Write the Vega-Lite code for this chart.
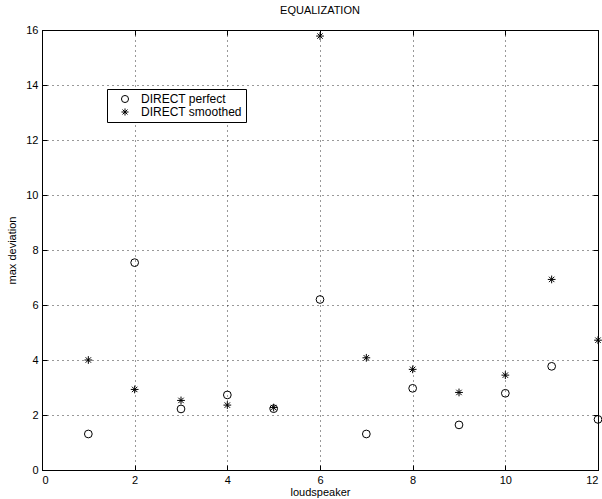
{
  "$schema": "https://vega.github.io/schema/vega-lite/v6.json",
  "width": 556,
  "height": 440,
  "autosize": "none",
  "padding": {"left": 42, "top": 30, "right": 4, "bottom": 29},
  "background": "white",
  "config": {
    "font": "Liberation Sans",
    "view": {"stroke": "black", "strokeWidth": 1}
  },
  "title": {"text": "EQUALIZATION", "fontSize": 11, "fontWeight": "normal", "color": "black", "offset": 8, "anchor": "middle"},
  "data": {
    "values": [
      {"loudspeaker": 1, "dev": 1.31, "series": "DIRECT perfect"},
      {"loudspeaker": 2, "dev": 7.54, "series": "DIRECT perfect"},
      {"loudspeaker": 3, "dev": 2.22, "series": "DIRECT perfect"},
      {"loudspeaker": 4, "dev": 2.73, "series": "DIRECT perfect"},
      {"loudspeaker": 5, "dev": 2.23, "series": "DIRECT perfect"},
      {"loudspeaker": 6, "dev": 6.2, "series": "DIRECT perfect"},
      {"loudspeaker": 7, "dev": 1.31, "series": "DIRECT perfect"},
      {"loudspeaker": 8, "dev": 2.97, "series": "DIRECT perfect"},
      {"loudspeaker": 9, "dev": 1.64, "series": "DIRECT perfect"},
      {"loudspeaker": 10, "dev": 2.79, "series": "DIRECT perfect"},
      {"loudspeaker": 11, "dev": 3.77, "series": "DIRECT perfect"},
      {"loudspeaker": 12, "dev": 1.84, "series": "DIRECT perfect"},
      {"loudspeaker": 1, "dev": 4.0, "series": "DIRECT smoothed"},
      {"loudspeaker": 2, "dev": 2.93, "series": "DIRECT smoothed"},
      {"loudspeaker": 3, "dev": 2.53, "series": "DIRECT smoothed"},
      {"loudspeaker": 4, "dev": 2.36, "series": "DIRECT smoothed"},
      {"loudspeaker": 5, "dev": 2.27, "series": "DIRECT smoothed"},
      {"loudspeaker": 6, "dev": 15.78, "series": "DIRECT smoothed"},
      {"loudspeaker": 7, "dev": 4.08, "series": "DIRECT smoothed"},
      {"loudspeaker": 8, "dev": 3.66, "series": "DIRECT smoothed"},
      {"loudspeaker": 9, "dev": 2.82, "series": "DIRECT smoothed"},
      {"loudspeaker": 10, "dev": 3.45, "series": "DIRECT smoothed"},
      {"loudspeaker": 11, "dev": 6.93, "series": "DIRECT smoothed"},
      {"loudspeaker": 12, "dev": 4.72, "series": "DIRECT smoothed"}
    ]
  },
  "resolve": {"axis": {"x": "independent", "y": "independent"}},
  "layer": [
    {
      "mark": {"type": "point", "filled": false, "stroke": "black", "strokeWidth": 1, "opacity": 0, "clip": false},
      "encoding": {
        "x": {
          "field": "loudspeaker", "type": "quantitative",
          "scale": {"domain": [0, 12], "nice": false},
          "axis": {"orient": "top", "values": [0, 2, 4, 6, 8, 10, 12], "title": null, "labels": false, "grid": false,
                   "domainColor": "black", "tickColor": "black", "tickSize": -5}
        },
        "y": {
          "field": "dev", "type": "quantitative",
          "scale": {"domain": [0, 16], "nice": false},
          "axis": {"orient": "right", "values": [0, 2, 4, 6, 8, 10, 12, 14, 16], "title": null, "labels": false, "grid": false,
                   "domainColor": "black", "tickColor": "black", "tickSize": -5}
        }
      }
    },
    {
      "mark": {"type": "point", "filled": false, "stroke": "black", "strokeWidth": 1, "opacity": 1, "clip": false},
      "encoding": {
        "x": {
          "field": "loudspeaker", "type": "quantitative",
          "scale": {"domain": [0, 12], "nice": false},
          "axis": {
            "orient": "bottom",
            "values": [0, 2, 4, 6, 8, 10, 12], "title": "loudspeaker",
            "grid": true, "gridDash": [1, 4], "gridColor": "black", "gridOpacity": 0.8,
            "domainColor": "black", "tickColor": "black", "tickSize": -5,
            "labelPadding": 9, "labelFontSize": 11, "labelColor": "black",
            "titleFontSize": 11, "titleFontWeight": "normal", "titleColor": "black", "titlePadding": 1
          }
        },
        "y": {
          "field": "dev", "type": "quantitative",
          "scale": {"domain": [0, 16], "nice": false},
          "axis": {
            "orient": "left",
            "values": [0, 2, 4, 6, 8, 10, 12, 14, 16], "title": "max deviation",
            "grid": true, "gridDash": [1, 4], "gridColor": "black", "gridOpacity": 0.8,
            "domainColor": "black", "tickColor": "black", "tickSize": -5,
            "labelPadding": 9, "labelFontSize": 11, "labelColor": "black",
            "titleFontSize": 11, "titleFontWeight": "normal", "titleColor": "black", "titlePadding": 8
          }
        },
        "shape": {
          "field": "series", "type": "nominal",
          "scale": {"domain": ["DIRECT perfect", "DIRECT smoothed"], "range": ["circle", "M-1,0H1M0,-1V1M-0.7,-0.7L0.7,0.7M-0.7,0.7L0.7,-0.7"]},
          "legend": {
            "title": null, "orient": "none", "legendX": 65, "legendY": 59,
            "strokeColor": "black", "fillColor": "white", "padding": 4,
            "labelFontSize": 12, "labelColor": "black", "symbolStrokeColor": "black", "symbolStrokeWidth": 1,
            "symbolSize": 50, "rowPadding": 1, "labelOffset": 10, "symbolOffset": 8
          }
        },
        "size": {"value": 60}
      }
    }
  ]
}
